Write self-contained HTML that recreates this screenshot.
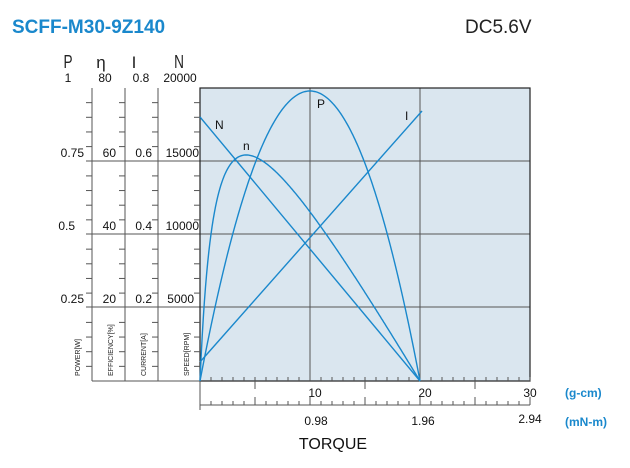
<!DOCTYPE html>
<html><head><style>
body{margin:0;background:#fff;font-family:"Liberation Sans",sans-serif}
</style></head><body>
<svg id="s" width="630" height="463" xmlns="http://www.w3.org/2000/svg" font-family="Liberation Sans, sans-serif">
<text x="12" y="33" font-size="19" font-weight="bold" fill="#1a88cc">SCFF-M30-9Z140</text>
<text x="465" y="33" font-size="19" fill="#222">DC5.6V</text>
<g font-size="17" fill="#222" text-anchor="middle" font-weight="normal">
<text x="68" y="68" transform="translate(68,68) scale(0.8,1.1) translate(-68,-68)">P</text><text x="101" y="68">η</text><text x="134" y="68">I</text><text x="179" y="68" transform="translate(179,68) scale(0.8,1.1) translate(-179,-68)">N</text>
</g>
<g font-size="12" fill="#111" text-anchor="middle">
<text x="68" y="82">1</text><text x="105" y="82">80</text><text x="141" y="82">0.8</text><text x="180" y="82">20000</text>
</g>
<g font-size="12" fill="#111" text-anchor="end">
<text x="84" y="157">0.75</text><text x="116" y="157">60</text><text x="152" y="157">0.6</text><text x="199" y="157">15000</text>
<text x="75" y="230">0.5</text><text x="116" y="230">40</text><text x="152" y="230">0.4</text><text x="199" y="230">10000</text>
<text x="84" y="303">0.25</text><text x="116" y="303">20</text><text x="152" y="303">0.2</text><text x="194" y="303">5000</text>
</g>
<rect x="200" y="88" width="330" height="293" fill="#dae6ef"/>
<g stroke="#555" stroke-width="1">
<line x1="200" y1="161" x2="530" y2="161"/><line x1="200" y1="234" x2="530" y2="234"/><line x1="200" y1="307" x2="530" y2="307"/>
<line x1="310" y1="88" x2="310" y2="381"/><line x1="420" y1="88" x2="420" y2="381"/>
<line x1="86" y1="161" x2="200" y2="161"/><line x1="86" y1="234" x2="200" y2="234"/><line x1="86" y1="307" x2="200" y2="307"/>
<line x1="92" y1="88" x2="92" y2="381"/><line x1="125" y1="88" x2="125" y2="381"/><line x1="158" y1="88" x2="158" y2="381"/>
<line x1="92" y1="381" x2="200" y2="381"/>
</g>
<rect x="200" y="88" width="330" height="293" fill="none" stroke="#222" stroke-width="1.2"/>
<g id="ticks" stroke="#555" stroke-width="1"></g>
<g font-size="7" fill="#222">
<text transform="translate(80,376) rotate(-90)">POWER[W]</text>
<text transform="translate(113,376) rotate(-90)">EFFICIENCY[%]</text>
<text transform="translate(146,376) rotate(-90)">CURRENT[A]</text>
<text transform="translate(189,376) rotate(-90)">SPEED[RPM]</text>
</g>
<line x1="200" y1="381" x2="200" y2="410" stroke="#555"/>
<line x1="200" y1="405" x2="530" y2="405" stroke="#555"/>
<g font-size="12" fill="#111" text-anchor="middle">
<text x="315" y="397">10</text><text x="425" y="397">20</text><text x="530" y="397">30</text>
<text x="316" y="425">0.98</text><text x="423" y="425">1.96</text><text x="530" y="423">2.94</text>
</g>
<g font-size="12" fill="#1a88cc" font-weight="bold">
<text x="565" y="397">(g-cm)</text><text x="565" y="426">(mN-m)</text>
</g>
<text x="333" y="449" font-size="16" fill="#111" text-anchor="middle">TORQUE</text>
<g fill="none" stroke="#1a88cc" stroke-width="1.4" id="curves">
<line x1="200" y1="117" x2="420" y2="381"/>
<line x1="200" y1="362" x2="422" y2="111"/>
</g>
<g font-size="12" fill="#111">
<text x="215" y="129">N</text><text x="243" y="150">n</text><text x="317" y="108">P</text><text x="405" y="120">I</text>
</g>
</svg>
<script>
var ns="http://www.w3.org/2000/svg",t=document.getElementById('ticks'),c=document.getElementById('curves');
function L(x1,y1,x2,y2){var l=document.createElementNS(ns,'line');l.setAttribute('x1',x1);l.setAttribute('y1',y1);l.setAttribute('x2',x2);l.setAttribute('y2',y2);t.appendChild(l);}
[92,125,158,200].forEach(function(x){for(var i=1;i<20;i++){if(i%5==0)continue;var y=88+i*14.65;L(x-6,y,x,y);}});
for(var i=1;i<=30;i++){var x=200+i*11;var big=i%5==0;L(x,381,x,381-4);if(big&&i%10)L(x,381,x,389);L(x,405,x,405-(big?8:4));}
function P(d){var p=document.createElementNS(ns,'path');p.setAttribute('d',d);c.appendChild(p);}
var d="",e="",mx=0,i,v=[];
for(i=0;i<=200;i++){var u=i/200;var x=200+220*u;d+=(i?"L":"M")+x.toFixed(1)+","+(381-290*4*u*(1-u)).toFixed(1);
var q=u*(1-u)/(0.065+0.855*u);v.push(q);if(q>mx)mx=q;}
for(i=0;i<=200;i++){var u=i/200;e+=(i?"L":"M")+(200+220*u).toFixed(1)+","+(381-226*v[i]/mx).toFixed(1);}
P(d);P(e);
</script>
</body></html>
